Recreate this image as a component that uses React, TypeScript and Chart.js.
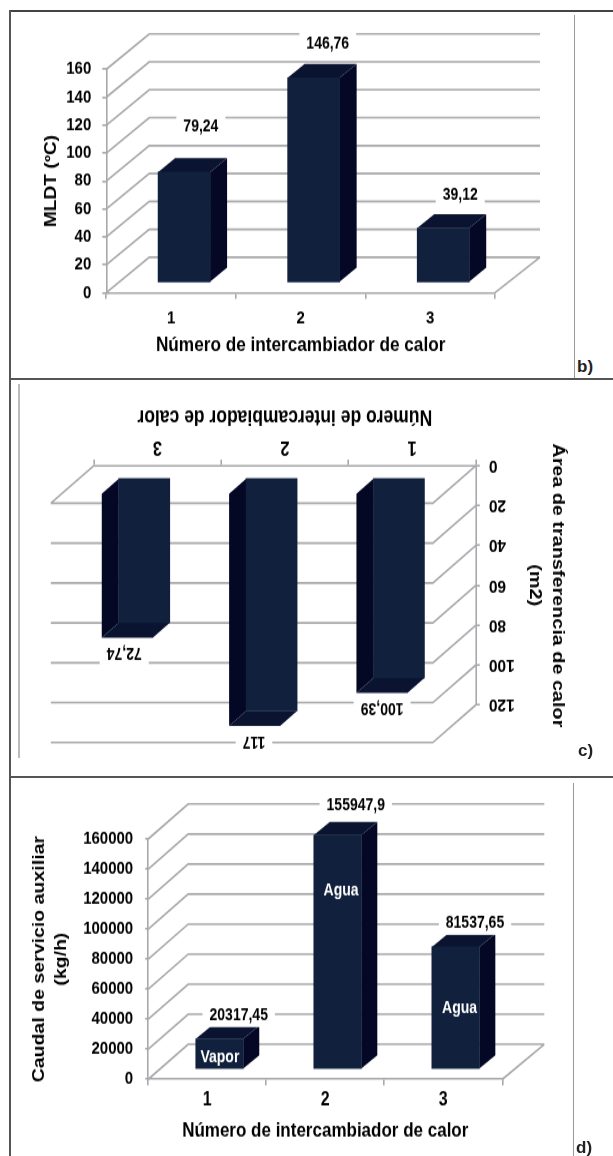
import React, { useEffect, useRef } from "react";
import { Chart, registerables } from "chart.js";

Chart.register(...registerables);

const categories = ["1", "2", "3"];
const mldtValues = [79.24, 146.76, 39.12];
const mldtLabels = ["79,24", "146,76", "39,12"];
const areaValues = [100.39, 117, 72.74];
const areaLabels = ["100,39", "117", "72,74"];
const flowValues = [20317.45, 155947.9, 81537.65];
const flowLabels = ["20317,45", "155947,9", "81537,65"];
const flowFluids = ["Vapor", "Agua", "Agua"];

const FONT = "'Liberation Sans', Arial, sans-serif";
const STRETCH = 1.2;
const FRONT = "#10203d";
const SIDE = "#040825";
const TOP = "#0a1431";
const GRID = "#a8a8ac";
const TEXT = "#000000";

type Spec = {
  left: number; top: number; width: number; height: number; flip: boolean;
  axisStart: number; axisEnd: number; y0: number; yMax: number;
  max: number; step: number; values: number[]; labels: string[]; inner?: string[];
  xTitle: string; yTitle: string | string[];
  yFont: number; yLine: number; yCenter: number; xFont: number; xCenter: number;
  wall: [number, number]; wallExtra: number; base: [number, number]; side: [number, number]; barW: number;
  catPad: number; catTick: number; catFont: number; valPad: number; valTick: number; valFont: number;
  labelOffsets: [number, number][]; innerOffsets?: [number, number][];
};

const chartB: Spec = {
  left: 12, top: 15, width: 560, height: 360, flip: false,
  axisStart: 106.3, axisEnd: 495, y0: 292.7, yMax: 69.3,
  max: 160, step: 20, values: mldtValues, labels: mldtLabels,
  xTitle: "Número de intercambiador de calor", yTitle: "MLDT (ºC)",
  yFont: 16, yLine: 1.2, yCenter: 39.8, xFont: 17.2, xCenter: 25,
  wall: [43, 29.5], wallExtra: 2, base: [13, 8.3], side: [17, 11.7], barW: 52,
  catPad: 7, catTick: 5, catFont: 15, valPad: 11, valTick: 4, valFont: 15,
  labelOffsets: [[16.8, -38], [14.1, -28.3], [17, -27.5]],
};

const chartC: Spec = {
  left: 20, top: 384, width: 580, height: 390, flip: true,
  axisStart: 475.8, axisEnd: 93.8, y0: 465.7, yMax: 705,
  max: 120, step: 20, values: areaValues, labels: areaLabels,
  xTitle: "Número de intercambiador de calor",
  yTitle: ["Área de transferencia de calor", "(m2)"],
  yFont: 16.5, yLine: 1.4, yCenter: 42, xFont: 17.5, xCenter: 27.25,
  wall: [43, 31.3], wallExtra: 0, base: [13.2, 10], side: [17, 12.5], barW: 51,
  catPad: 1, catTick: 5, catFont: 16.5, valPad: 9, valTick: 4, valFont: 15.5,
  labelOffsets: [[16.8, -25], [17.6, -25.8], [20, -25]],
};

const chartD: Spec = {
  left: 12, top: 785, width: 558, height: 366, flip: false,
  axisStart: 148.2, axisEnd: 502.3, y0: 1079.3, yMax: 839,
  max: 160000, step: 20000, values: flowValues, labels: flowLabels, inner: flowFluids,
  xTitle: "Número de intercambiador de calor",
  yTitle: ["Caudal de servicio auxiliar", "(kg/h)"],
  yFont: 16.3, yLine: 1.34, yCenter: 28, xFont: 17, xCenter: 16.9,
  wall: [40, 29.2], wallExtra: 2, base: [12.3, 8.3], side: [16, 11], barW: 47.5,
  catPad: 3, catTick: 5, catFont: 16, valPad: 12, valTick: 3, valFont: 15,
  labelOffsets: [[19.2, -19.75], [18.2, -24.4], [19.4, -20]],
  innerOffsets: [[0.4, 15.25], [3.5, 46.4], [4, 51]],
};

function Chart3D({ spec }: { spec: Spec }) {
  const ref = useRef<HTMLCanvasElement>(null);
  useEffect(() => {
    const s = spec;
    const w = s.width;
    const h = Math.round(s.height / STRETCH);
    const toY = (Y: number) => (s.flip ? s.top + s.height - Y : Y - s.top) / STRETCH;
    const toX = (X: number) => (s.flip ? s.left + s.width - X : X - s.left);
    const chartLeft = toX(s.axisStart);
    const chartRight = toX(s.axisEnd);
    const chartTop = toY(s.yMax);
    const chartBottom = toY(s.y0);

    const plugin = {
      id: "depth3d",
      beforeDatasetsDraw(chart: any) {
        const { ctx, chartArea: a, scales } = chart;
        const [wx, wy] = s.wall;
        ctx.save();
        ctx.strokeStyle = GRID;
        ctx.lineWidth = 1.6;
        ctx.beginPath();
        for (let v = 0; v <= s.max; v += s.step) {
          const y = scales.y.getPixelForValue(v);
          ctx.moveTo(a.left, y);
          ctx.lineTo(a.left + wx, y - wy);
          ctx.lineTo(a.right + wx + s.wallExtra, y - wy);
        }
        ctx.moveTo(a.right, a.bottom);
        ctx.lineTo(a.right + wx + s.wallExtra, a.bottom - wy);
        ctx.stroke();
        ctx.restore();
      },
      beforeDatasetDraw(chart: any, args: any) {
        const { ctx } = chart;
        const [ox, oy] = s.base;
        const [sx, sy] = s.side;
        ctx.save();
        ctx.translate(ox, -oy);
        args.meta.data.forEach((bar: any) => {
          const { x, y, base, width } = bar.getProps(["x", "y", "base", "width"], true);
          const l = x - width / 2;
          const r = x + width / 2;
          ctx.fillStyle = SIDE;
          ctx.beginPath();
          ctx.moveTo(r, y);
          ctx.lineTo(r + sx, y - sy);
          ctx.lineTo(r + sx, base - sy);
          ctx.lineTo(r, base);
          ctx.closePath();
          ctx.fill();
          ctx.fillStyle = TOP;
          ctx.beginPath();
          ctx.moveTo(l, y);
          ctx.lineTo(l + sx, y - sy);
          ctx.lineTo(r + sx, y - sy);
          ctx.lineTo(r, y);
          ctx.closePath();
          ctx.fill();
        });
      },
      afterDatasetDraw(chart: any) {
        chart.ctx.restore();
      },
      afterDatasetsDraw(chart: any) {
        const { ctx } = chart;
        const [ox, oy] = s.base;
        const meta = chart.getDatasetMeta(0);
        ctx.save();
        ctx.textAlign = "center";
        ctx.textBaseline = "middle";
        ctx.font = `bold 14px ${FONT}`;
        meta.data.forEach((bar: any, i: number) => {
          const { x, y } = bar.getProps(["x", "y"], true);
          const cx = x + ox + s.labelOffsets[i][0];
          const cy = y - oy + s.labelOffsets[i][1];
          const tw = ctx.measureText(s.labels[i]).width + 14;
          ctx.fillStyle = "#ffffff";
          ctx.fillRect(cx - tw / 2, cy - 10, tw, 20);
          ctx.fillStyle = TEXT;
          ctx.fillText(s.labels[i], cx, cy);
          if (s.inner && s.innerOffsets) {
            ctx.fillStyle = "#ffffff";
            ctx.fillText(s.inner[i], x + ox + s.innerOffsets[i][0], y - oy + s.innerOffsets[i][1]);
          }
        });
        ctx.restore();
      },
    };

    const titleFont = (size: number, lineHeight: number) => ({ family: FONT, weight: "bold" as const, size, lineHeight });
    const chart = new Chart(ref.current!, {
      type: "bar",
      data: {
        labels: categories,
        datasets: [{ data: s.values, backgroundColor: FRONT, borderWidth: 0, barThickness: s.barW, clip: false as any }],
      },
      plugins: [plugin],
      options: {
        animation: false,
        responsive: false,
        devicePixelRatio: 1,
        layout: { padding: { left: 0, top: chartTop, right: w - chartRight, bottom: 0 } },
        plugins: { legend: { display: false }, tooltip: { enabled: false }, title: { display: false } },
        scales: {
          x: {
            afterFit(scale: any) { scale.height = h - chartBottom; },
            grid: { display: true, drawOnChartArea: false, drawTicks: true, tickLength: s.catTick, color: GRID, lineWidth: 1.6, offset: true },
            border: { display: true, color: GRID, width: 1.6 },
            ticks: { color: TEXT, padding: s.catPad, maxRotation: 0, minRotation: 0, font: { family: FONT, weight: "bold", size: s.catFont } },
            title: {
              display: true, text: s.xTitle, color: TEXT, font: titleFont(s.xFont, 1.2),
              padding: { top: 0, bottom: s.xCenter - (s.xFont * 1.2) / 2 },
            },
          },
          y: {
            min: 0, max: s.max,
            afterFit(scale: any) { scale.width = chartLeft; },
            grid: { display: true, drawOnChartArea: false, drawTicks: true, tickLength: s.valTick, color: GRID, lineWidth: 1.6 },
            border: { display: true, color: GRID, width: 1.6 },
            ticks: {
              stepSize: s.step, color: TEXT, padding: s.valPad, autoSkip: false,
              font: { family: FONT, weight: "bold", size: s.valFont },
              callback: (v: any) => String(v),
            },
            title: {
              display: true, text: s.yTitle, color: TEXT, font: titleFont(s.yFont, s.yLine),
              padding: { top: s.yCenter - (s.yFont * s.yLine) / 2, bottom: 0 },
            },
          },
        },
      },
    });
    return () => chart.destroy();
  }, [spec]);

  const h = Math.round(spec.height / STRETCH);
  const sy = spec.height / h;
  const transform = spec.flip
    ? `translate(${spec.width}px, ${spec.height}px) scale(-1, ${-sy})`
    : `scale(1, ${sy})`;
  return (
    <canvas
      ref={ref}
      width={spec.width}
      height={h}
      style={{
        position: "absolute", left: spec.left, top: spec.top,
        width: spec.width, height: h,
        transformOrigin: "0 0", transform, filter: "blur(0.45px)",
      }}
    />
  );
}

const line = (left: number, top: number, width: number, height: number, background: string) => (
  <div style={{ position: "absolute", left, top, width, height, background }} />
);

const tag = (text: string, left: number, top: number) => (
  <div style={{ position: "absolute", left, top, font: `bold 17px ${FONT}`, color: "#222", lineHeight: "18px" }}>{text}</div>
);

export default function App() {
  return (
    <div style={{ position: "absolute", left: 0, top: 0, width: 613, height: 1156, overflow: "hidden", background: "#fff" }}>
      {line(9, 10, 604, 2, "#444")}
      {line(9, 378, 604, 2, "#555")}
      {line(9, 776, 604, 2, "#555")}
      {line(9, 10, 2, 1146, "#555")}
      {line(574, 15, 1, 363, "#999")}
      {line(18, 384, 2, 374, "#bbb")}
      {line(573, 783, 1, 373, "#999")}
      <Chart3D spec={chartB} />
      <Chart3D spec={chartC} />
      <Chart3D spec={chartD} />
      {tag("b)", 577, 358)}
      {tag("c)", 578, 742)}
      {tag("d)", 576, 1139)}
    </div>
  );
}
